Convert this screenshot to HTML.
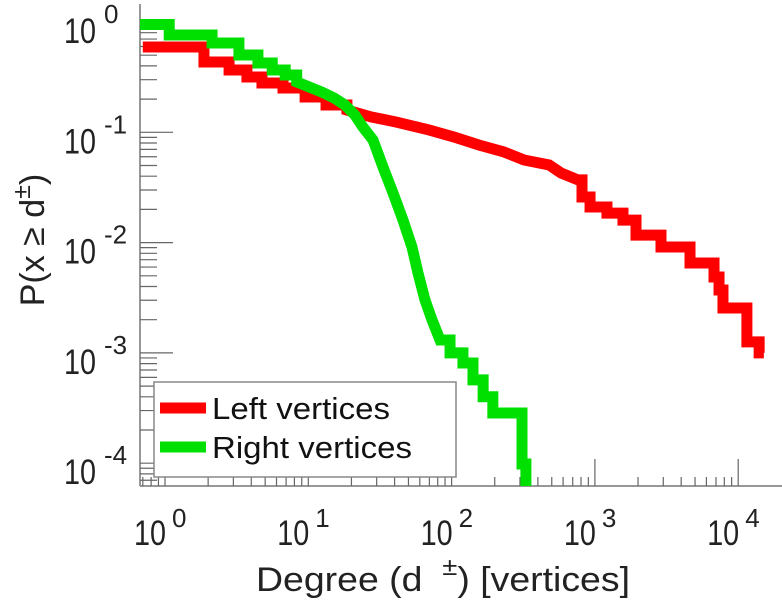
<!DOCTYPE html>
<html><head><meta charset="utf-8"><style>
html,body{margin:0;padding:0;background:#fff;}
svg{display:block;font-family:"Liberation Sans",sans-serif;}
</style></head><body>
<svg id="chart" width="782" height="600" viewBox="0 0 782 600">
<defs><clipPath id="plotclip"><rect x="140" y="0" width="642" height="486"/></clipPath></defs>
<g id="axes"></g>
<g id="series" clip-path="url(#plotclip)"></g>
<g>
<rect x="154" y="382" width="302" height="95" fill="#fff" stroke="#888" stroke-width="1.5"/>
<line x1="160" y1="408" x2="206" y2="408" stroke="#ff0000" stroke-width="11"/>
<text x="212" y="419" font-size="31" textLength="178" lengthAdjust="spacingAndGlyphs" fill="#111">Left vertices</text>
<line x1="160" y1="447" x2="206" y2="447" stroke="#00e000" stroke-width="11"/>
<text x="212" y="458" font-size="31" textLength="200" lengthAdjust="spacingAndGlyphs" fill="#111">Right vertices</text>
</g>
<text x="256" y="591" font-size="34" textLength="374" lengthAdjust="spacingAndGlyphs" fill="#222">Degree (d<tspan dx="18" dy="-16" font-size="25">±</tspan><tspan dy="16">) [vertices]</tspan></text>
<text transform="translate(44,240) rotate(-90)" font-size="34" text-anchor="middle" fill="#222">P(x ≥ d<tspan dy="-14" font-size="25">±</tspan><tspan dy="14">)</tspan></text>
</svg>
<script>
const leftDeg = [0.7,1.87,2.8,3.73,4.75,6.66,9.5,13.3,18.6,27.4,40.9,69.5,104,155,232,320,479,580,762,813,925,1214,1570,1936,2892,4610,6780,7350,7830,11500,14000,15100];
const leftP   = [0.593,0.434,0.367,0.317,0.280,0.252,0.209,0.177,0.159,0.138,0.124,0.105,0.0906,0.0767,0.0663,0.0561,0.0506,0.0428,0.0370,0.0259,0.0210,0.0185,0.0160,0.0117,0.00912,0.00653,0.00488,0.00372,0.00255,0.00126,0.00100,0.00100];
const rightDeg = [0.67,1.07,2.13,3.28,4.45,5.6,6.9,8.3,10.1,12.4,15.1,18.0,21.1,24.0,28.3,33.2,39.0,45.8,52.9,58.3,65.2,73.0,83.0,97.5,120,141,166,194,310,330,341];
const rightP   = [0.95,0.762,0.645,0.502,0.425,0.367,0.331,0.286,0.258,0.232,0.205,0.177,0.144,0.112,0.0851,0.0484,0.0282,0.0160,0.00912,0.00530,0.00302,0.00199,0.00131,0.00100,0.00081,0.00057,0.00040,0.000285,0.0000984,0.00005,0.00005];
const xTickExp = [0,1,2,3,4];
const yTickExp = [0,-1,-2,-3,-4];

const NS='http://www.w3.org/2000/svg';
function X(d){return 165+143.3*Math.log10(d);}
function Y(p){return 22-110.3*Math.log10(p);}
function mk(tag,attrs,parent){const e=document.createElementNS(NS,tag);for(const k in attrs)e.setAttribute(k,attrs[k]);parent.appendChild(e);return e;}
const axes=document.getElementById('axes');
const series=document.getElementById('series');

const yl=mk('line',{x1:140,y1:4,x2:140,y2:486,stroke:'#777','stroke-width':1.5},axes);


const xl=mk('line',{x1:140,y1:486,x2:782,y2:486,stroke:'#777','stroke-width':1.5},axes);



for(let e=-5;e<=0;e++){for(let k=2;k<=9;k++){const y=Y(k*Math.pow(10,e));if(y<6||y>484)continue;
 const t=mk('line',{x1:140,y1:y,x2:157,y2:y,stroke:'#666','stroke-width':1.2},axes);
 
 }}
for(let e=-1;e<=4;e++){for(let k=2;k<=9;k++){const x=X(k*Math.pow(10,e));if(x<142||x>780)continue;
 const t=mk('line',{x1:x,y1:486,x2:x,y2:477,stroke:'#666','stroke-width':1.2},axes);
 
 }}
yTickExp.forEach(e=>{const y=Y(Math.pow(10,e));
 const t=mk('line',{x1:140,y1:y,x2:173,y2:y,stroke:'#666','stroke-width':1.2},axes);
 
 
 const tx=mk('text',{x:64,y:y+21,'font-size':35,textLength:32,lengthAdjust:'spacingAndGlyphs',fill:'#222'},axes);
 tx.textContent='10';
 
 
 const sp=mk('text',{x:104,y:y+1,'font-size':26,fill:'#222'},axes);
 sp.textContent=String(e);
 
 });
xTickExp.forEach(e=>{const x=X(Math.pow(10,e));
 const t=mk('line',{x1:x,y1:486,x2:x,y2:459,stroke:'#666','stroke-width':1.2},axes);
 
 
 const tx=mk('text',{x:x-31,y:545,'font-size':35,textLength:32,lengthAdjust:'spacingAndGlyphs',fill:'#222'},axes);
 tx.textContent='10';
 
 
 const sp=mk('text',{x:x+7,y:527,'font-size':26,fill:'#222'},axes);
 sp.textContent=String(e);
 
 });

// stairs with an optional smooth (linear) stretch between indices a..b
function curve(deg,p,a,b){let d='M'+X(deg[0])+','+Y(p[0]);
 for(let i=1;i<deg.length;i++){
  if(i>a&&i<=b){d+=' L'+X(deg[i])+','+Y(p[i]);continue;}
  d+=' H'+X(deg[i]);if(i<p.length)d+=' V'+Y(p[i]);}
 return d;}
const r=mk('path',{d:curve(leftDeg,leftP,8,18),fill:'none',stroke:'#ff0000','stroke-width':11,'stroke-linejoin':'miter'},series);


const g=mk('path',{d:curve(rightDeg,rightP,7,22)+' V600',fill:'none',stroke:'#00e000','stroke-width':11,'stroke-linejoin':'miter'},series);


</script>
</body></html>
